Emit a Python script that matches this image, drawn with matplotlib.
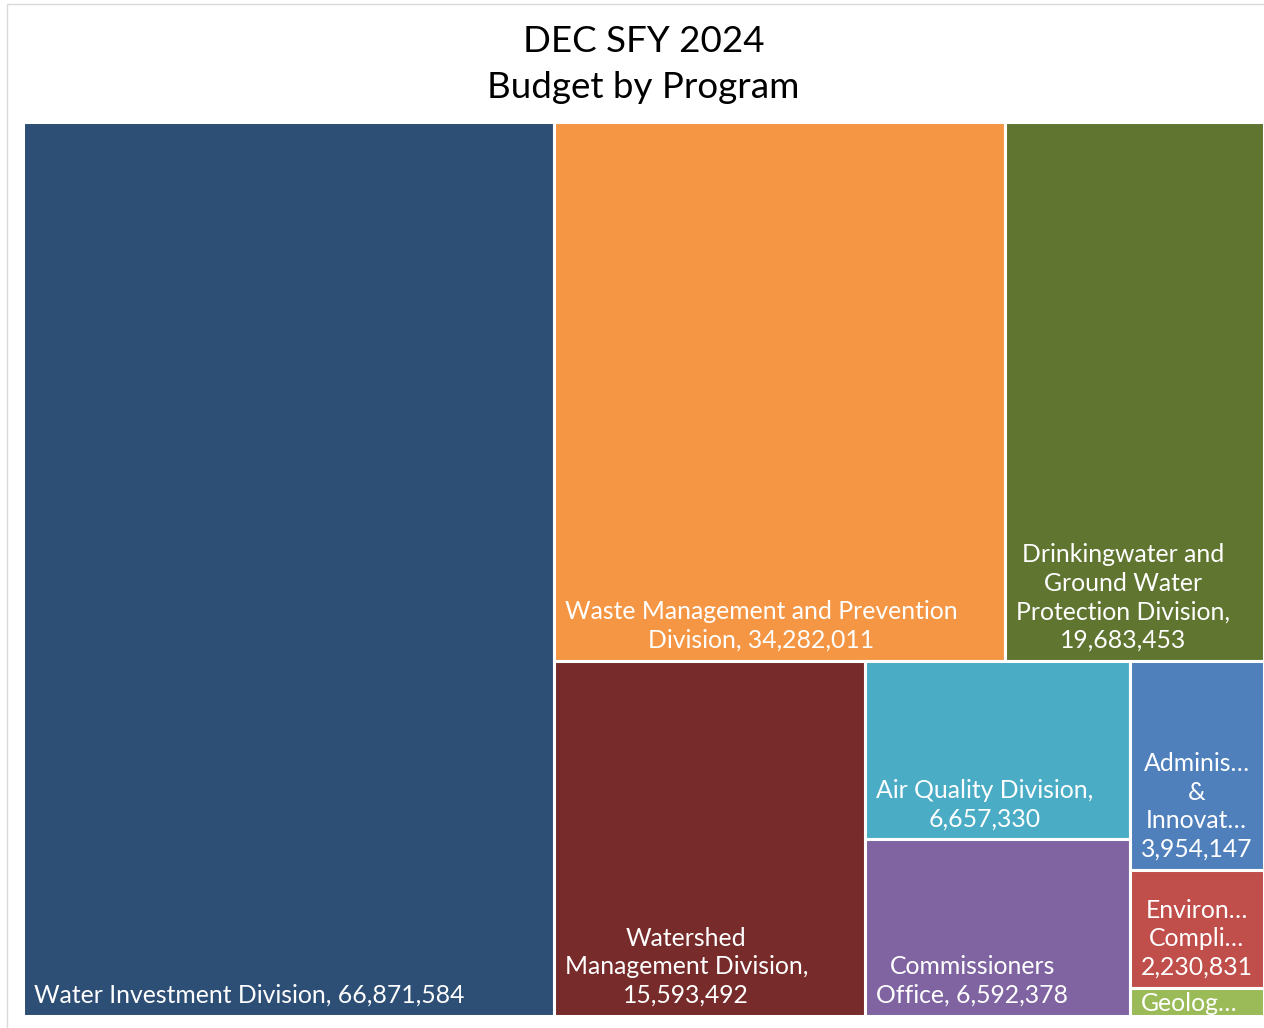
import matplotlib
matplotlib.use("Agg")
import matplotlib.pyplot as plt
from matplotlib.patches import Rectangle

plt.rcParams['font.family'] = ['Lato', 'DejaVu Sans']

# data
programs = ["Water Investment Division", "Waste Management and Prevention Division",
            "Drinkingwater and Ground Water Protection Division", "Watershed Management Division",
            "Air Quality Division", "Commissioners Office", "Administration & Innovation",
            "Environmental Compliance", "Geology"]
budget = [66871584, 34282011, 19683453, 15593492, 6657330, 6592378, 3954147, 2230831, 530000]
labels = ["Water Investment Division, 66,871,584",
          "Waste Management and Prevention\nDivision, 34,282,011",
          "Drinkingwater and\nGround Water\nProtection Division,\n19,683,453",
          "Watershed\nManagement Division,\n15,593,492",
          "Air Quality Division,\n6,657,330",
          "Commissioners\nOffice, 6,592,378",
          "Adminis\u2026\n&\nInnovat\u2026\n3,954,147",
          "Environ\u2026\nCompli\u2026\n2,230,831",
          "Geolog\u2026"]
colors = ["#2D4E75", "#F59645", "#607530", "#772B2A", "#4AACC5",
          "#7F64A1", "#4F80BC", "#C04F4C", "#9BBB58"]
# how many tiles go in each strip of the treemap
strips = [1, 2, 1, 2, 1, 1, 1]

W, H = 1241, 894


def layout(vals, strips, w, h):
    total = sum(vals)
    scale = w * h / total
    areas = [v * scale for v in vals]
    x, y = 0.0, 0.0
    rects = []
    i = 0
    for n in strips:
        row = areas[i:i + n]
        s = sum(row)
        if w >= h:
            cw = s / h
            yy = y
            for a in row:
                rh = a / cw
                rects.append((x, yy, cw, rh))
                yy += rh
            x += cw
            w -= cw
        else:
            rh = s / w
            xx = x
            for a in row:
                cw = a / rh
                rects.append((xx, y, cw, rh))
                xx += cw
            y += rh
            h -= rh
        i += n
    return rects


fig = plt.figure(figsize=(12.64, 10.28), dpi=100)
fig.patches.append(Rectangle((7 / 1264, -0.1), 1.2, (1028 - 4) / 1028 + 0.1,
                             transform=fig.transFigure, fill=False,
                             edgecolor="#d9d9d9", linewidth=1))

ax = fig.add_axes([23 / 1264, 12 / 1028, W / 1264, H / 1028])
ax.set_xlim(0, W)
ax.set_ylim(H, 0)
ax.axis("off")

rects = layout(budget, strips, W, H)
for (x, y, w, h), lab, c in zip(rects, labels, colors):
    r = Rectangle((x, y), w, h, facecolor=c, edgecolor="white", linewidth=2.2)
    ax.add_patch(r)
    if h > 40:
        t = ax.text(x + 11, y + h - 9, lab, color="white", fontsize=17.8,
                    ha="left", va="bottom", multialignment="center", linespacing=1.3)
    else:
        t = ax.text(x + 11, y + 4, lab, color="white", fontsize=17.8,
                    ha="left", va="top", multialignment="center")
    t.set_clip_path(r)

fig.text(643.5 / 1264, 1 - 42 / 1028, "DEC SFY 2024", fontsize=26.5, ha="center", va="center")
fig.text(643.5 / 1264, 1 - 88 / 1028, "Budget by Program", fontsize=26.5, ha="center", va="center")

fig.savefig("out.png", dpi=100)
